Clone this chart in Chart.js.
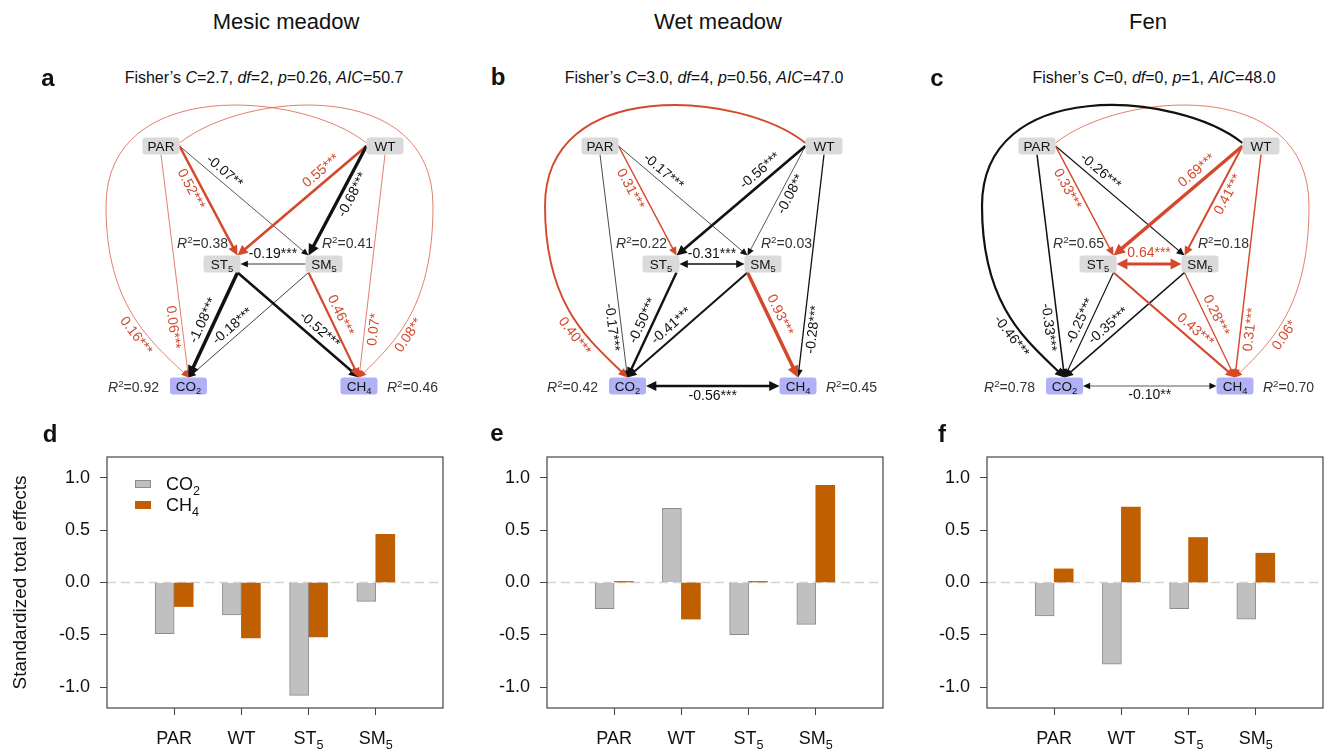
<!DOCTYPE html>
<html>
<head>
<meta charset="utf-8">
<script src="https://cdn.jsdelivr.net/npm/chart.js@4.4.1/dist/chart.umd.min.js"></script>
<style>
  body { margin: 0; background: #fff; }
  #fig { position: relative; width: 1326px; height: 751px; overflow: hidden; font-family: 'Liberation Sans', Arial, sans-serif; color: #111; }
  #fig canvas { position: absolute; }
  .txt { position: absolute; white-space: nowrap; transform: translate(-50%, -50%); line-height: 1; }
  .title { font-size: 22px; }
  .fisher { font-size: 16px; }
  .letter { font-size: 24px; font-weight: bold; }
</style>
</head>
<body>
<div id="fig"></div>
<script>
// ---- data ----
const habitats = ['Mesic meadow', 'Wet meadow', 'Fen'];
const fisherC = ['2.7', '3.0', '0'];
const fisherDf = ['2', '4', '0'];
const fisherP = ['0.26', '0.56', '1'];
const fisherAIC = ['50.7', '47.0', '48.0'];

const predictors = ['PAR', 'WT', 'ST5', 'SM5'];
const co2Total = [
    [-0.49, -0.31, -1.08, -0.18],
    [-0.25, 0.71, -0.50, -0.40],
    [-0.32, -0.78, -0.25, -0.35]
];
const ch4Total = [
    [-0.23, -0.53, -0.52, 0.46],
    [0.01, -0.35, 0.01, 0.93],
    [0.13, 0.72, 0.43, 0.28]
];
const yTickValues = [-1.0, -0.5, 0.0, 0.5, 1.0];

const responders = ['ST5', 'SM5', 'CO2', 'CH4'];
const r2Values = [
    [0.38, 0.41, 0.92, 0.46],
    [0.22, 0.03, 0.42, 0.45],
    [0.65, 0.18, 0.78, 0.70]
];

// [from, to, coefficient, significance, double headed]
const mesicPaths = [
    ['PAR', 'CO2', 0.06, '***'],
    ['WT', 'CH4', 0.07, '*'],
    ['WT', 'CO2', 0.16, '***'],
    ['PAR', 'CH4', 0.08, '**'],
    ['PAR', 'SM5', -0.07, '**'],
    ['SM5', 'ST5', -0.19, '***'],
    ['SM5', 'CO2', -0.18, '***'],
    ['PAR', 'ST5', 0.52, '***'],
    ['WT', 'ST5', 0.55, '***'],
    ['WT', 'SM5', -0.68, '***'],
    ['ST5', 'CO2', -1.08, '***'],
    ['ST5', 'CH4', -0.52, '***'],
    ['SM5', 'CH4', 0.46, '***']
];
const wetPaths = [
    ['PAR', 'CO2', -0.17, '***'],
    ['PAR', 'SM5', -0.17, '***'],
    ['WT', 'SM5', -0.08, '**'],
    ['WT', 'CH4', -0.28, '***'],
    ['PAR', 'ST5', 0.31, '***'],
    ['ST5', 'SM5', -0.31, '***', true],
    ['WT', 'CO2', 0.40, '***'],
    ['ST5', 'CO2', -0.50, '***'],
    ['SM5', 'CO2', -0.41, '***'],
    ['WT', 'ST5', -0.56, '***'],
    ['SM5', 'CH4', 0.93, '***'],
    ['CO2', 'CH4', -0.56, '***', true]
];
const fenPaths = [
    ['PAR', 'CH4', 0.06, '*'],
    ['PAR', 'CO2', -0.33, '***'],
    ['PAR', 'SM5', -0.26, '***'],
    ['ST5', 'CO2', -0.25, '***'],
    ['SM5', 'CH4', 0.28, '***'],
    ['CO2', 'CH4', -0.10, '**', true],
    ['PAR', 'ST5', 0.33, '***'],
    ['WT', 'CH4', 0.31, '***'],
    ['SM5', 'CO2', -0.35, '***'],
    ['WT', 'SM5', 0.41, '***'],
    ['ST5', 'CH4', 0.43, '***'],
    ['WT', 'CO2', -0.46, '***'],
    ['WT', 'ST5', 0.69, '***'],
    ['ST5', 'SM5', 0.64, '***', true]
];
const allPaths = [mesicPaths, wetPaths, fenPaths];

// ---- layout ----
const RED = '#d4492c', INK = '#111111';
const FONT = '"Liberation Sans", Arial, Helvetica, sans-serif';
const nodePos = { PAR: [0, 0], WT: [224, 0], ST5: [61, 118], SM5: [163, 118], CO2: [27.5, 240], CH4: [198, 240] };
const HW = 18.5, HH = 8.5;
const portOff = {
    l: [-HW, 0], r: [HW, 0], t: [0, -HH], b: [0, HH],
    lt: [-HW, -3], rt: [HW, -3],
    tl: [-HW + 3, -HH], tr: [HW - 3, -HH], bl: [-HW + 3, HH], br: [HW - 3, HH]
};
const edgeLayout = {
    'PAR-ST5': { ports: ['r', 'tr'], t: 0.35, side: -1 },
    'PAR-SM5': { ports: ['r', 'tl'], t: 0.3, side: 1 },
    'WT-ST5': { ports: ['l', 'tr'], t: 0.3, side: -1 },
    'WT-SM5': { ports: ['l', 'tl'], t: 0.4, side: 1 },
    'WT-CH4': { ports: ['b', 't'], t: 0.78, side: 1 },
    'PAR-CO2': { ports: ['b', 't'], t: 0.77, side: -1 },
    'ST5-CO2': { ports: ['br', 't'], t: 0.5, side: -1 },
    'SM5-CO2': { ports: ['bl', 't'], t: 0.58, side: -1 },
    'ST5-CH4': { ports: ['br', 't'], t: 0.62, side: 1 },
    'SM5-CH4': { ports: ['bl', 't'], t: 0.45, side: 1 },
    'SM5-ST5': { ports: ['l', 'r'], t: 0.5, side: -1 },
    'ST5-SM5': { ports: ['r', 'l'], t: 0.5, side: 1 },
    'CO2-CH4': { ports: ['r', 'l'], t: 0.5, side: -1 },
    'WT-CO2': { ports: ['lt', 't'], loop: 'left', t: 0.6, side: -1 },
    'PAR-CH4': { ports: ['rt', 't'], loop: 'right', t: 0.6, side: 1 }
};
// control points of the two outer curves: c1, c2, middle, c3, c4
const loopShape = {
    left: [[140, -55], [-55, -70], [-55, 60], [-55, 160], [-10, 195]],
    right: [[84, -55], [272, -70], [272, 60], [272, 160], [235, 195]]
};
const r2Place = { ST5: [67, 97, 'right'], SM5: [161, 97, 'left'], CO2: [-2, 241, 'right'], CH4: [226, 241, 'left'] };
const diagLeft = [52, 491, 928];
const barLeft = [0, 440, 880];

const fig = document.getElementById('fig');

function addText(cls, html, x, y) {
    const d = document.createElement('div');
    d.className = 'txt ' + cls;
    d.innerHTML = html;
    d.style.left = x + 'px';
    d.style.top = y + 'px';
    fig.appendChild(d);
}

function richParts(name) {
    const m = name.match(/^([A-Za-z]+)(\d)$/);
    return m ? [{ t: m[1] }, { t: m[2], sub: true }] : [{ t: name }];
}

function drawRich(ctx, parts, x, y, size, align, color) {
    const fontOf = p => (p.it ? 'italic ' : '') + ((p.sub || p.sup) ? size * 0.7 : size).toFixed(1) + 'px ' + FONT;
    let total = 0;
    parts.forEach(p => { ctx.font = fontOf(p); p.w = ctx.measureText(p.t).width; total += p.w; });
    let cx = align === 'center' ? x - total / 2 : (align === 'right' ? x - total : x);
    ctx.fillStyle = color;
    ctx.textAlign = 'left';
    ctx.textBaseline = 'alphabetic';
    const base = y + size * 0.36;
    parts.forEach(p => {
        ctx.font = fontOf(p);
        const dy = p.sub ? size * 0.25 : (p.sup ? -size * 0.36 : 0);
        ctx.fillText(p.t, cx, base + dy);
        cx += p.w;
    });
}

function lineWidthFor(c) {
    return Math.min(3.5, Math.max(0.7, 5 * Math.abs(c) - 0.1));
}

function unit(dx, dy) {
    const l = Math.hypot(dx, dy) || 1;
    return [dx / l, dy / l];
}

function uprightAngle(dx, dy) {
    let a = Math.atan2(dy, dx);
    if (a > Math.PI / 2 + 1e-6) a -= Math.PI;
    else if (a <= -Math.PI / 2 + 1e-6) a += Math.PI;
    return a;
}

function arrowHead(ctx, tip, u, w, col) {
    const L = 6 + 1.6 * w, H = 2.6 + 0.9 * w;
    const bx = tip[0] - u[0] * L, by = tip[1] - u[1] * L;
    ctx.beginPath();
    ctx.moveTo(tip[0], tip[1]);
    ctx.lineTo(bx - u[1] * H, by + u[0] * H);
    ctx.lineTo(bx + u[1] * H, by - u[0] * H);
    ctx.closePath();
    ctx.fillStyle = col;
    ctx.fill();
}

function bezierPoint(p0, p1, p2, p3, t) {
    const s = 1 - t;
    return [0, 1].map(i => s * s * s * p0[i] + 3 * s * s * t * p1[i] + 3 * s * t * t * p2[i] + t * t * t * p3[i]);
}

function bezierTangent(p0, p1, p2, p3, t) {
    const s = 1 - t;
    return [0, 1].map(i => 3 * s * s * (p1[i] - p0[i]) + 6 * s * t * (p2[i] - p1[i]) + 3 * t * t * (p3[i] - p2[i]));
}

function edgeLabel(ctx, text, pt, d, side, off, col) {
    const u = unit(d[0], d[1]);
    const x = pt[0] + u[1] * side * off, y = pt[1] - u[0] * side * off;
    ctx.save();
    ctx.translate(x, y);
    ctx.rotate(uprightAngle(d[0], d[1]));
    ctx.font = '14px ' + FONT;
    ctx.fillStyle = col;
    ctx.textAlign = 'center';
    ctx.textBaseline = 'middle';
    ctx.fillText(text, 0, 0);
    ctx.restore();
}

function semPlugin(k) {
    return {
        id: 'sem' + k,
        beforeDatasetsDraw(chart) {
            const ctx = chart.ctx, sx = chart.scales.x, sy = chart.scales.y;
            const px = p => [sx.getPixelForValue(p[0]), sy.getPixelForValue(p[1])];
            const port = (node, name) => px([nodePos[node][0] + portOff[name][0], nodePos[node][1] + portOff[name][1]]);
            ctx.save();
            allPaths[k].forEach(path => {
                const [from, to, coef, stars, both] = path;
                const lay = edgeLayout[from + '-' + to];
                const col = coef > 0 ? RED : INK;
                const w = lineWidthFor(coef);
                const a = port(from, lay.ports[0]), b = port(to, lay.ports[1]);
                const text = coef.toFixed(2) + stars;
                const head = 6 + 1.6 * w;
                ctx.strokeStyle = col;
                ctx.lineWidth = w;
                if (lay.loop) {
                    const L = loopShape[lay.loop].map(px);
                    const u = unit(b[0] - L[4][0], b[1] - L[4][1]);
                    const e = [b[0] - u[0] * head * 0.8, b[1] - u[1] * head * 0.8];
                    ctx.beginPath();
                    ctx.moveTo(a[0], a[1]);
                    ctx.bezierCurveTo(L[0][0], L[0][1], L[1][0], L[1][1], L[2][0], L[2][1]);
                    ctx.bezierCurveTo(L[3][0], L[3][1], L[4][0], L[4][1], e[0], e[1]);
                    ctx.stroke();
                    arrowHead(ctx, b, u, w, col);
                    const pt = bezierPoint(L[2], L[3], L[4], b, lay.t);
                    const d = bezierTangent(L[2], L[3], L[4], b, lay.t);
                    edgeLabel(ctx, text, pt, d, lay.side, 9 + w / 2, col);
                } else {
                    const u = unit(b[0] - a[0], b[1] - a[1]);
                    const e = [b[0] - u[0] * head * 0.8, b[1] - u[1] * head * 0.8];
                    const s = both ? [a[0] + u[0] * head * 0.8, a[1] + u[1] * head * 0.8] : a;
                    ctx.beginPath();
                    ctx.moveTo(s[0], s[1]);
                    ctx.lineTo(e[0], e[1]);
                    ctx.stroke();
                    arrowHead(ctx, b, u, w, col);
                    if (both) arrowHead(ctx, a, [-u[0], -u[1]], w, col);
                    const pt = [a[0] + (b[0] - a[0]) * lay.t, a[1] + (b[1] - a[1]) * lay.t];
                    edgeLabel(ctx, text, pt, [b[0] - a[0], b[1] - a[1]], lay.side, 9 + w / 2, col);
                }
            });
            ctx.restore();
        },
        afterDatasetsDraw(chart) {
            const ctx = chart.ctx, sx = chart.scales.x, sy = chart.scales.y;
            const px = p => [sx.getPixelForValue(p[0]), sy.getPixelForValue(p[1])];
            ctx.save();
            chart.data.labels.forEach((name, i) => {
                const pt = chart.getDatasetMeta(0).data[i];
                const fill = (name === 'CO2' || name === 'CH4') ? '#b1b1f6' : '#dadada';
                ctx.beginPath();
                ctx.roundRect(pt.x - HW, pt.y - HH, HW * 2, HH * 2, 3);
                ctx.fillStyle = fill;
                ctx.fill();
                drawRich(ctx, richParts(name), pt.x, pt.y, 13.5, 'center', '#111');
            });
            responders.forEach((name, i) => {
                const pl = r2Place[name];
                const p = px([pl[0], pl[1]]);
                drawRich(ctx, [{ t: 'R', it: true }, { t: '2', sup: true }, { t: '=' + r2Values[k][i].toFixed(2) }], p[0], p[1], 14, pl[2], '#333');
            });
            ctx.restore();
        }
    };
}

function makeDiagram(k) {
    const cv = document.createElement('canvas');
    cv.width = 440;
    cv.height = 340;
    cv.style.left = diagLeft[k] + 'px';
    cv.style.top = '90px';
    fig.appendChild(cv);
    const names = Object.keys(nodePos);
    new Chart(cv, {
        type: 'scatter',
        data: {
            labels: names,
            datasets: [{ data: names.map(n => ({ x: nodePos[n][0], y: nodePos[n][1] })), pointRadius: 0 }]
        },
        options: {
            responsive: false,
            animation: false,
            events: [],
            layout: { padding: 0 },
            plugins: { legend: { display: false }, tooltip: { enabled: false } },
            scales: {
                x: { type: 'linear', display: false, min: -109, max: 331 },
                y: { type: 'linear', display: false, min: -56, max: 284, reverse: true }
            }
        },
        plugins: [semPlugin(k)]
    });
}

function barPlugin(k) {
    return {
        id: 'bars' + k,
        beforeDatasetsDraw(chart) {
            const { ctx, chartArea: ca } = chart;
            const y0 = chart.scales.y.getPixelForValue(0);
            ctx.save();
            ctx.strokeStyle = '#d2d2d2';
            ctx.lineWidth = 1.5;
            ctx.setLineDash([9, 5]);
            ctx.beginPath();
            ctx.moveTo(ca.left, y0);
            ctx.lineTo(ca.right, y0);
            ctx.stroke();
            ctx.restore();
        },
        afterDraw(chart) {
            const { ctx, chartArea: ca } = chart;
            const xs = chart.scales.x;
            ctx.save();
            ctx.strokeStyle = '#444';
            ctx.lineWidth = 1.2;
            ctx.strokeRect(ca.left, ca.top, ca.width, ca.height);
            predictors.forEach((p, i) => {
                drawRich(ctx, richParts(p), xs.getPixelForValue(i + 1), ca.bottom + 30, 18, 'center', '#111');
            });
            if (k === 0) {
                const sw = [['#c0c0c0', '#8c8c8c', 'CO2', 23], ['#c05f00', null, 'CH4', 44]];
                sw.forEach(([fill, stroke, name, dy]) => {
                    ctx.fillStyle = fill;
                    ctx.fillRect(ca.left + 28, ca.top + dy, 16, 8);
                    if (stroke) {
                        ctx.strokeStyle = stroke;
                        ctx.lineWidth = 1;
                        ctx.strokeRect(ca.left + 28.5, ca.top + dy + 0.5, 15, 7);
                    }
                    drawRich(ctx, richParts(name), ca.left + 59, ca.top + dy + 4, 18, 'left', '#111');
                });
            }
            ctx.restore();
        }
    };
}

function makeBars(k) {
    const cv = document.createElement('canvas');
    cv.width = 446;
    cv.height = 331;
    cv.style.left = barLeft[k] + 'px';
    cv.style.top = '420px';
    fig.appendChild(cv);
    new Chart(cv, {
        type: 'bar',
        data: {
            datasets: [
                {
                    label: 'CO2',
                    data: co2Total[k].map((v, i) => ({ x: i + 1, y: v })),
                    backgroundColor: '#c0c0c0',
                    borderColor: '#8c8c8c',
                    borderWidth: 1,
                    barThickness: 19
                },
                {
                    label: 'CH4',
                    data: ch4Total[k].map((v, i) => ({ x: i + 1, y: v })),
                    backgroundColor: '#c05f00',
                    borderWidth: 0,
                    barThickness: 19
                }
            ]
        },
        options: {
            responsive: false,
            animation: false,
            events: [],
            layout: { padding: { top: 37, right: 3, left: 0, bottom: 0 } },
            plugins: { legend: { display: false }, tooltip: { enabled: false } },
            scales: {
                x: {
                    type: 'linear',
                    min: 0,
                    max: 5,
                    offset: false,
                    afterBuildTicks: s => { s.ticks = predictors.map((p, i) => ({ value: i + 1 })); },
                    afterFit: s => { s.height = 43; },
                    ticks: { callback: () => '' },
                    grid: { offset: false, drawOnChartArea: false, tickLength: 7, color: '#444' },
                    border: { display: false }
                },
                y: {
                    min: -1.2,
                    max: 1.2,
                    afterBuildTicks: s => { s.ticks = yTickValues.map(v => ({ value: v })); },
                    afterFit: s => { s.width = 107; },
                    ticks: {
                        callback: v => v.toFixed(1),
                        font: { size: 18, family: FONT },
                        color: '#111',
                        padding: 10
                    },
                    grid: { drawOnChartArea: false, tickLength: 7, color: '#444' },
                    border: { display: false },
                    title: {
                        display: k === 0,
                        text: 'Standardized total effects',
                        font: { size: 19, family: FONT },
                        color: '#111',
                        padding: { top: 9, bottom: 0 }
                    }
                }
            }
        },
        plugins: [barPlugin(k)]
    });
}

const titleX = [286, 718, 1148];
const fisherX = [264, 704, 1154];
habitats.forEach((h, k) => {
    addText('title', h, titleX[k], 22);
    addText('fisher', 'Fisher\u2019s <i>C</i>=' + fisherC[k] + ', <i>df</i>=' + fisherDf[k] +
        ', <i>p</i>=' + fisherP[k] + ', <i>AIC</i>=' + fisherAIC[k], fisherX[k], 78);
    makeDiagram(k);
    makeBars(k);
});
[['a', 48, 78], ['b', 498, 77], ['c', 937, 78], ['d', 50, 434], ['e', 497, 433], ['f', 942, 434]]
    .forEach(([t, x, y]) => addText('letter', t, x, y));
</script>
</body>
</html>
